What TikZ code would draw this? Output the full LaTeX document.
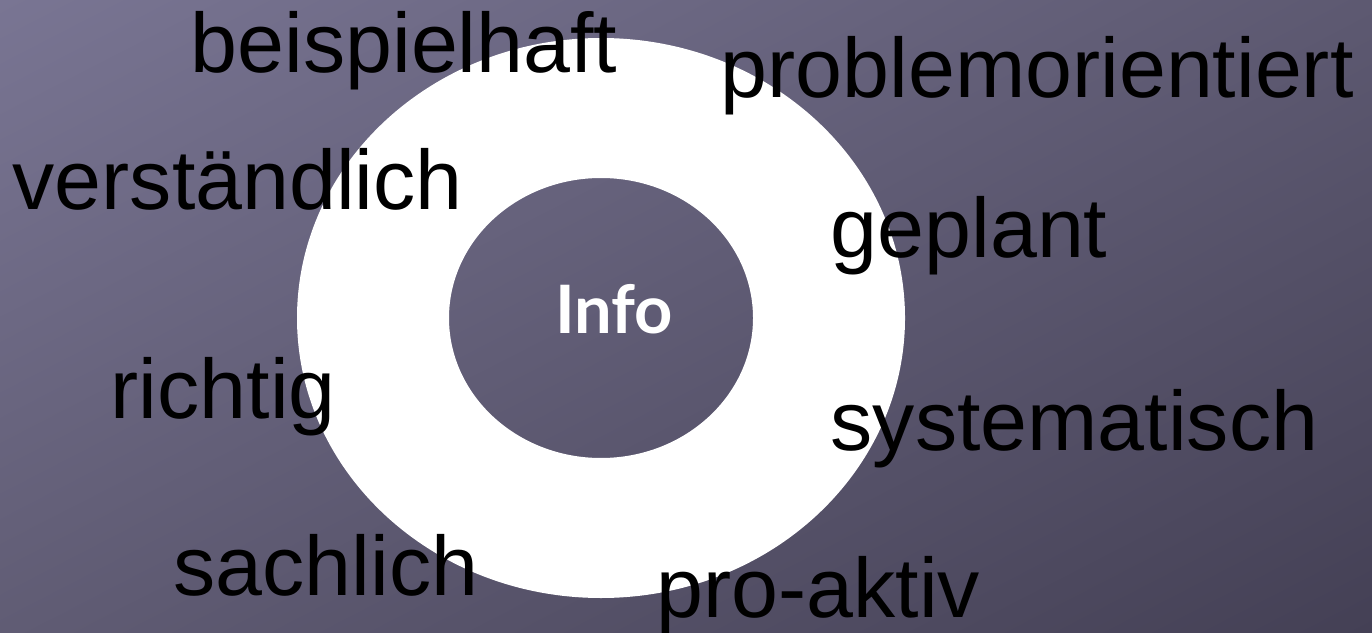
\documentclass[tikz,border=0pt]{standalone}
\usepackage{fontspec}
\usetikzlibrary{shadings}
\setmainfont{Liberation Sans}
\newfontfamily\infofont{Lato}
\definecolor{bgtl}{RGB}{121,117,147}
\definecolor{bgtr}{RGB}{93,89,113}
\definecolor{bgbl}{RGB}{96,92,116}
\definecolor{bgbr}{RGB}{68,64,85}
\begin{document}
\begin{tikzpicture}[wort/.style={anchor=base west,inner sep=0pt,font=\fontsize{24}{28}\selectfont},
                    mitte/.style={anchor=base,inner sep=0pt,text=white,font=\infofont\bfseries\fontsize{19}{23}\selectfont}]
                        \useasboundingbox (0,0) rectangle (13.72,6.32);
                        \shade[upper left=bgtl,upper right=bgtr,lower left=bgbl,lower right=bgbr] (0,0) rectangle (13.72,6.32);
                        \fill[white,even odd rule] (6.01,3.14) ellipse [x radius=3.04,y radius=2.80]
                                                   (6.01,3.14) ellipse [x radius=1.52,y radius=1.40];
                        \node[mitte] (info) at (6.14,2.99) {Info};
                        \node[wort] (beispielhaft) at (1.90,5.59) {beispielhaft};
                        \node[wort] (problem) at (7.20,5.34) {problemorientiert};
                        \node[wort] (verstaendlich) at (0.12,4.22) {verständlich};
                        \node[wort] (geplant) at (8.30,3.74) {geplant};
                        \node[wort] (richtig) at (1.10,2.14) {richtig};
                        \node[wort] (systematisch) at (8.30,1.82) {systematisch};
                        \node[wort] (sachlich) at (1.73,0.37) {sachlich};
                        \node[wort] (proaktiv) at (6.56,0.15) {pro-aktiv};
                     \end{tikzpicture}
\end{document}
